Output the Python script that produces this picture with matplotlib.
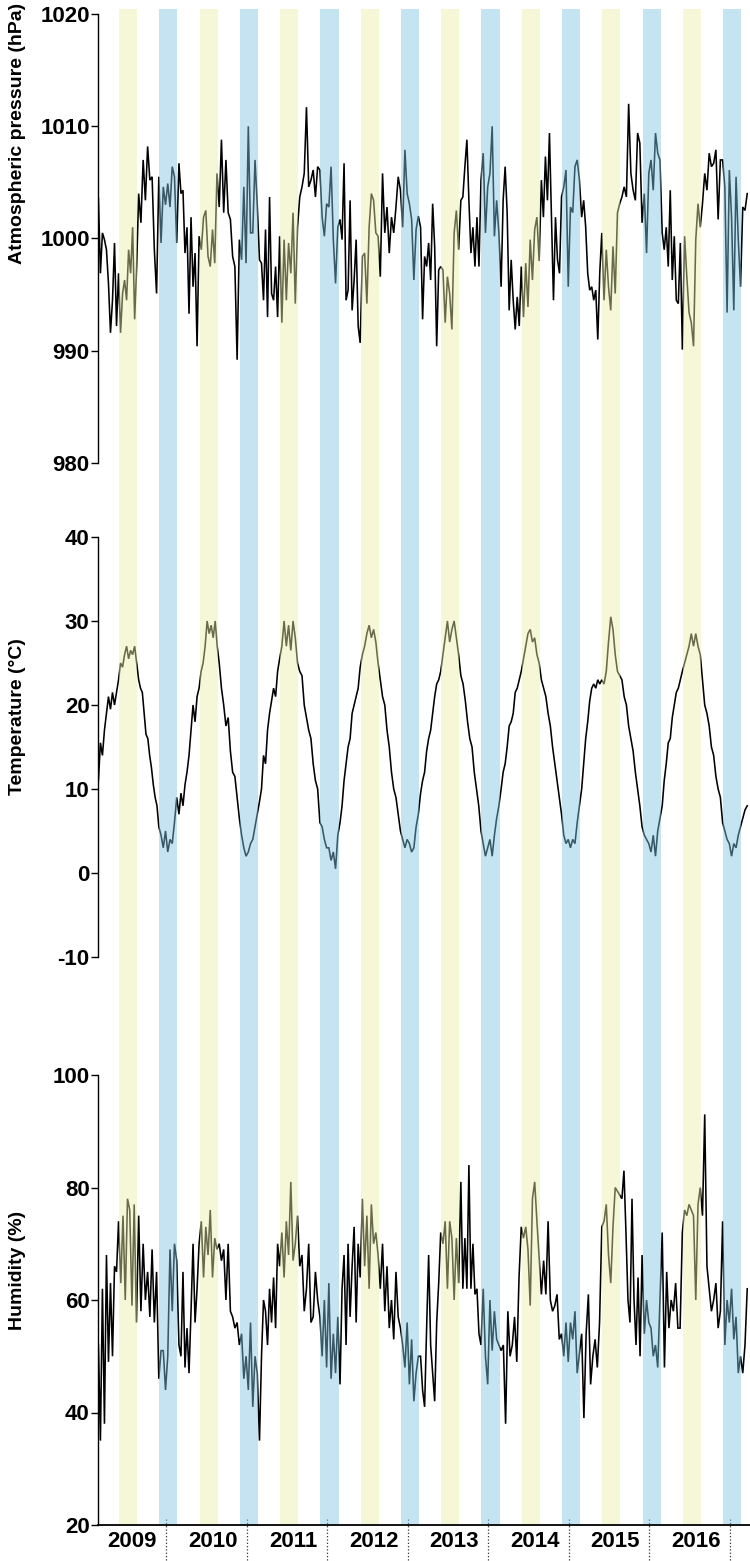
import numpy as np
import matplotlib
matplotlib.use("Agg")
import matplotlib.pyplot as plt
from matplotlib.transforms import blended_transform_factory
from matplotlib import font_manager

plt.rcParams['font.family'] = ['Liberation Sans', 'DejaVu Sans']
plt.rcParams['font.weight'] = 'bold'

names = {f.name for f in font_manager.fontManager.ttflist}
narrow = ['Liberation Sans Narrow', 'Liberation Sans'] if 'Liberation Sans Narrow' in names else ['Liberation Sans']

# ---------------- data (seasonal blocks: MAM, JJA, SON, DJF ... from spring 2009) -------------
years = [2009, 2010, 2011, 2012, 2013, 2014, 2015, 2016]
year_labels = [str(y) for y in years]
series_start = 2009.16

pressure_blocks = [
    [1003.6, 996.9, 1000.5, 999.9, 999.0, 996.0, 991.6, 994.5, 999.6, 992.2],
    [996.9, 991.6, 995.1, 996.3, 994.5, 999.0, 996.9, 1001.0, 992.8, 997.5],
    [1004.0, 1001.4, 1007.0, 1003.4, 1008.2, 1005.2, 1005.5, 999.0, 995.1],
    [1005.5, 999.6, 1004.6, 1003.0, 1004.9, 1002.8, 1006.4, 1005.5, 999.6],
    [1006.7, 1004.0, 1004.3, 998.7, 1001.0, 993.3, 1001.9, 995.7, 998.7, 990.4],
    [1000.2, 999.0, 1001.9, 1002.5, 998.4, 997.5, 1000.8, 997.8, 1005.8],
    [1002.8, 1008.8, 1002.3, 1007.0, 1002.3, 1001.7, 998.4, 997.5, 989.2],
    [999.9, 998.1, 1004.6, 997.8, 1010.0, 1000.5, 1000.5, 1007.0, 1003.0],
    [998.1, 997.8, 994.5, 1000.8, 993.0, 1003.7, 995.1, 994.5, 997.5, 993.0],
    [1000.2, 992.5, 999.9, 994.5, 999.6, 996.9, 1002.3, 994.2, 1001.0],
    [1003.7, 1004.6, 1005.8, 1011.7, 1004.6, 1005.2, 1006.1, 1003.7, 1006.4],
    [1006.1, 1001.9, 1000.2, 1003.1, 1002.8, 1006.4, 999.9, 996.0, 1001.0],
    [1001.7, 999.9, 1006.7, 994.5, 995.4, 1003.4, 993.6, 996.3, 999.9, 992.2],
    [990.7, 998.4, 998.7, 994.2, 1001.0, 1004.0, 1003.4, 1000.5, 1000.2],
    [996.6, 1005.8, 1000.5, 1002.8, 998.7, 1001.9, 1000.5, 1002.8, 1005.5],
    [1004.3, 1001.0, 1007.9, 1004.0, 1003.1, 1001.7, 996.3, 1000.8, 1002.0],
    [1001.0, 992.8, 998.4, 997.5, 999.6, 996.3, 1003.1, 999.3, 990.4, 997.2],
    [997.5, 997.2, 992.5, 996.6, 995.1, 991.9, 1000.5, 1002.5, 999.0],
    [1003.4, 1003.7, 1006.4, 1008.8, 1003.4, 998.7, 1001.0, 997.5, 1001.9, 997.5],
    [1005.2, 1007.6, 1000.5, 1004.6, 1005.8, 1010.0, 1000.2, 1003.4, 1000.5],
    [995.7, 1003.4, 1006.4, 1002.3, 993.6, 998.1, 994.5, 991.9, 994.8, 992.2],
    [997.5, 993.0, 997.8, 993.9, 999.9, 996.3, 1000.8, 1001.9, 998.0],
    [1005.2, 1001.9, 1007.3, 1003.4, 1009.4, 1001.9, 994.5, 1001.9, 998.1, 996.9],
    [1003.7, 1004.6, 1006.1, 995.7, 1002.8, 1002.3, 1006.4, 1007.0, 1005.2],
    [1001.9, 1003.4, 1001.0, 996.9, 995.4, 995.7, 994.5, 995.4, 991.0, 997.0],
    [1000.5, 994.5, 999.0, 995.7, 993.6, 999.3, 995.1, 1002.3, 1003.1],
    [1003.7, 1004.6, 1003.7, 1012.0, 1005.8, 1004.3, 1003.4, 1009.4, 1008.5],
    [1001.4, 1004.0, 998.7, 1005.8, 1007.0, 1004.3, 1009.4, 1007.6, 1007.0],
    [1000.5, 999.0, 1001.0, 997.5, 1004.3, 996.3, 1000.2, 994.5, 994.2, 999.6],
    [990.1, 1000.2, 996.6, 993.4, 992.5, 990.4, 999.9, 1003.1, 1001.0],
    [1003.1, 1005.8, 1004.3, 1007.6, 1006.4, 1006.7, 1007.9, 1001.7, 1007.0],
    [1007.0, 1004.6, 993.4, 1006.1, 1001.9, 993.6, 1005.5, 999.9, 995.7],
    [1002.8, 1002.5, 1004.0],
]

temperature_blocks = [
    [11, 15.5, 14, 17, 19, 21, 19.5, 21.5, 20, 21.5],
    [23, 25, 24.5, 26, 27, 25.5, 26.5, 26, 27, 25],
    [23, 22, 21.5, 19, 16.5, 16, 14, 12.5, 10.5, 9, 8],
    [5.5, 4.5, 3, 5, 2.5, 4, 3.5, 6, 9],
    [7, 9.5, 8, 10.5, 12, 14, 17, 20, 18, 21],
    [22, 24, 25, 27, 30, 28.5, 29.5, 28, 30, 27],
    [25, 22, 20, 17.5, 18.5, 14.5, 12, 11.5, 9],
    [6.5, 4.5, 3, 2, 2.5, 3.5, 4, 5.5, 7],
    [8.5, 10, 14, 13, 17, 19, 20.5, 22, 21, 24],
    [25.5, 27, 30, 27, 29.5, 26.5, 30, 28, 25],
    [24, 23.5, 20, 18.5, 17, 16, 13, 11, 10],
    [6, 5.5, 4, 3, 3, 1.5, 2.5, 0.5, 4.5],
    [6, 8, 11, 13, 15, 16, 19, 20, 21, 22],
    [24.5, 26, 27, 28.5, 29.5, 28, 29, 27.5, 25],
    [23, 21, 20, 17, 15, 12, 10, 9, 7],
    [5, 4, 3, 4, 3.5, 2.5, 3, 5.5, 7],
    [9.5, 11, 12, 14.5, 16, 17, 19, 21, 22.5, 23],
    [24, 26, 28, 30, 27.5, 29, 30, 28, 26],
    [23.5, 22.5, 20.5, 18, 16, 15, 12, 10, 8],
    [5, 3.5, 2, 3, 4, 2, 4.5, 6.5, 8],
    [10, 12, 13, 15, 17.5, 18, 19, 21.5, 22, 23],
    [24, 25.5, 27, 28.5, 29, 27.5, 28, 26, 25],
    [23, 22, 21, 19, 17.5, 15, 13, 11, 9],
    [7, 4.5, 3.5, 4, 3, 4, 3.5, 6, 8],
    [10, 13, 16, 18, 20.5, 22, 22.5, 22, 23, 22.5],
    [23, 22.5, 24, 27.5, 30.5, 29, 26, 24, 23.5],
    [23, 21, 20, 17.5, 16, 14.5, 12, 10, 8],
    [5.5, 4.5, 4, 3.5, 2.5, 4.5, 2, 5, 6.5],
    [8, 11, 13, 15.5, 16, 18.5, 20, 21.5, 22, 23],
    [24, 25, 26, 27, 28.5, 27, 28.5, 27, 26],
    [23, 20, 19, 17.5, 15, 14, 11.5, 10, 9],
    [6, 5, 4, 3.5, 2, 3.5, 3, 4.5],
    [6.5, 7.5, 8],
]

humidity_blocks = [
    [52, 35, 62, 38, 68, 49, 63, 50, 66, 65],
    [74, 63, 75, 60, 78, 76, 59, 77, 56],
    [75, 58, 70, 60, 65, 57, 69, 56, 65],
    [46, 51, 51, 44, 50, 69, 58, 70, 67],
    [52, 50, 65, 48, 55, 47, 58, 70, 56, 62],
    [70, 74, 64, 73, 68, 76, 64, 71, 69],
    [70, 67, 69, 60, 70, 58, 57, 55, 56],
    [52, 54, 46, 50, 44, 56, 41, 50, 47],
    [35, 50, 60, 58, 52, 62, 56, 64, 55, 70],
    [66, 72, 64, 74, 68, 81, 67, 70, 75],
    [66, 68, 58, 62, 70, 56, 57, 65, 60],
    [57, 50, 60, 48, 63, 46, 54, 47, 57],
    [45, 62, 68, 52, 70, 57, 66, 73, 56, 70],
    [64, 78, 66, 75, 62, 77, 70, 72, 68],
    [62, 70, 58, 66, 55, 60, 53, 65, 57],
    [55, 52, 48, 56, 45, 53, 42, 47, 50],
    [50, 44, 41, 55, 68, 52, 47, 42, 56, 63],
    [72, 70, 74, 62, 74, 71, 60, 71, 63],
    [81, 62, 71, 62, 84, 62, 70, 61, 62, 54],
    [52, 62, 50, 45, 60, 51, 58, 53],
    [51, 52, 38, 58, 50, 52, 57, 49, 64],
    [73, 71, 73, 69, 59, 78, 81, 74],
    [61, 67, 61, 74, 60, 58, 59, 61, 53],
    [54, 50, 56, 49, 56, 53, 58, 47],
    [54, 39, 54, 61, 45, 50, 53, 48, 56],
    [73, 74, 77, 68, 63, 73, 80],
    [78, 83, 72, 60, 56, 78, 60, 52, 64, 50],
    [68, 54, 60, 56, 55, 50, 52, 48],
    [72, 48, 65, 55, 60, 58, 63, 55, 55],
    [72, 76, 75, 77, 76, 75, 60, 77, 80],
    [75, 93, 66, 62, 58, 60, 63, 55, 58],
    [74, 52, 60, 56, 62, 53, 57, 47, 50],
    [47, 52, 62],
]

# season shading (fraction of year)
summer_span = (0.416, 0.641)
winter_span = (0.916, 1.141)


def block_series(blocks):
    xs = []
    for k, b in enumerate(blocks):
        n = len(b)
        step = 0.25 / max(n, 9)
        start = series_start + 0.25 * k
        xs.extend(start + step * np.arange(n))
    return np.array(xs), np.concatenate([np.asarray(b, float) for b in blocks])


W, H = 750, 1561
fig = plt.figure(figsize=(W / 100, H / 100), dpi=100)


def rect(top, bottom, left=98, right=750):
    return [left / W, 1 - bottom / H, (right - left) / W, (bottom - top) / H]


xlim = (2009.155, 2017.25)

ax_p = fig.add_axes(rect(14, 463))
ax_t = fig.add_axes(rect(537, 957))
ax_h = fig.add_axes(rect(1075, 1525))
ax_bg = fig.add_axes(rect(9, 1524), zorder=5)

panels = [
    (ax_p, pressure_blocks, (980, 1020), [980, 990, 1000, 1010, 1020]),
    (ax_t, temperature_blocks, (-10, 40), [-10, 0, 10, 20, 30, 40]),
    (ax_h, humidity_blocks, (20, 100), [20, 40, 60, 80, 100]),
]

for ax, blocks, ylim, yt in panels:
    x, v = block_series(blocks)
    ax.plot(x, v, color='black', lw=1.15, solid_joinstyle='miter')
    ax.set_xlim(*xlim)
    ax.set_ylim(*ylim)
    ax.set_yticks(yt)
    ax.set_yticklabels([str(t) for t in yt], family=narrow, fontsize=16, fontweight='bold')
    ax.set_facecolor('none')
    for s in ['top', 'right', 'bottom']:
        ax.spines[s].set_visible(False)
    ax.spines['left'].set_linewidth(1.0)
    ax.tick_params(axis='y', direction='out', length=5, width=1.0, pad=1)
    ax.set_xticks([])

ax_h.spines['bottom'].set_visible(True)
ax_h.spines['bottom'].set_linewidth(1.3)

# overlay of seasonal bands
ax_bg.set_xlim(*xlim)
ax_bg.set_ylim(0, 1)
ax_bg.axis('off')
ax_bg.patch.set_alpha(0)
for y in years:
    ax_bg.axvspan(y + summer_span[0], y + summer_span[1], color='#e9eea4', alpha=0.45, lw=0)
    ax_bg.axvspan(y + winter_span[0], y + winter_span[1], color='#7cc5e2', alpha=0.45, lw=0)

# year labels and dotted separators
trans = blended_transform_factory(ax_h.transData, ax_h.transAxes)
for y, lab in zip(years, year_labels):
    ax_h.text(y + 0.58, -0.037, lab, transform=trans, ha='center', va='center',
              fontsize=16, fontweight='bold', family=narrow)
    ax_h.plot([y + 1, y + 1], [0.013, -0.085], transform=trans, ls=':', color='#333333',
              lw=0.9, clip_on=False)

# y-axis titles
fig.text(18 / W, 1 - 133 / H, 'Atmospheric pressure (hPa)', rotation=90,
         ha='center', va='center', fontsize=14, fontweight='bold')
fig.text(18 / W, 1 - 717 / H, 'Temperature (°C)', rotation=90,
         ha='center', va='center', fontsize=14, fontweight='bold')
fig.text(18 / W, 1 - 1270 / H, 'Humidity (%)', rotation=90,
         ha='center', va='center', fontsize=14, fontweight='bold')

fig.savefig('out.png', dpi=100)
